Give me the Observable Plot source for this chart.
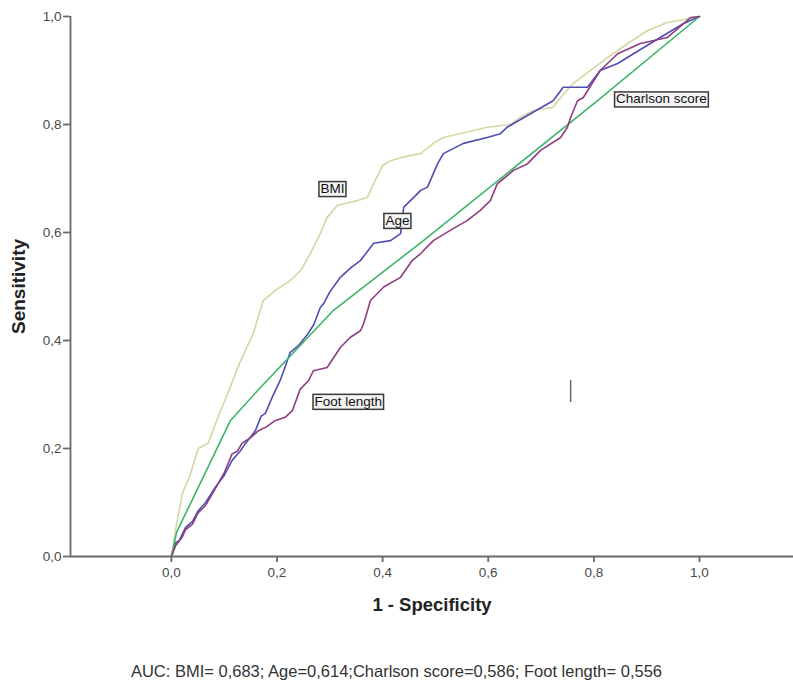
<!DOCTYPE html>
<html>
<head>
<meta charset="utf-8">
<script src="https://cdn.jsdelivr.net/npm/d3@7"></script>
<script src="https://cdn.jsdelivr.net/npm/@observablehq/plot@0.6"></script>
<style>
  body { margin: 0; background: #fff; font-family: "Liberation Sans", Arial, sans-serif; }
  #chart { width: 793px; }
  #caption { width: 793px; text-align: center; font-size: 16.5px; color: #333; margin-top: 34px; }
</style>
</head>
<body>
<div id="chart"></div>
<div id="caption"></div>
<script>
// ---- data ----
const xTicks = [0, 0.2, 0.4, 0.6, 0.8, 1.0];
const yTicks = [0, 0.2, 0.4, 0.6, 0.8, 1.0];
const xAxisLabel = "1 - Specificity";
const yAxisLabel = "Sensitivity";
const captionText = "AUC: BMI= 0,683; Age=0,614;Charlson score=0,586; Foot length= 0,556";

const seriesNames = ["BMI", "Age", "Charlson score", "Foot length"];
const seriesColors = ["#d6d6a2", "#4d4db3", "#3db56a", "#8e3d80"];

const bmiX = [0,0.008,0.021,0.035,0.051,0.07,0.085,0.11,0.13,0.155,0.174,0.2,0.225,0.245,0.263,0.282,0.295,0.314,0.335,0.352,0.371,0.383,0.4,0.415,0.44,0.472,0.496,0.515,0.56,0.598,0.642,0.66,0.686,0.723,0.737,0.761,0.788,0.826,0.864,0.902,0.939,0.964,1];
const bmiY = [0,0.05,0.117,0.15,0.2,0.21,0.25,0.31,0.36,0.413,0.474,0.495,0.511,0.53,0.561,0.598,0.628,0.65,0.655,0.659,0.665,0.69,0.724,0.733,0.74,0.746,0.765,0.776,0.786,0.795,0.8,0.813,0.826,0.832,0.85,0.876,0.896,0.924,0.95,0.974,0.989,0.993,1];

const ageX = [0,0.008,0.015,0.027,0.04,0.051,0.065,0.083,0.1,0.115,0.13,0.14,0.159,0.17,0.178,0.191,0.206,0.215,0.225,0.24,0.257,0.27,0.282,0.288,0.3,0.32,0.34,0.358,0.383,0.415,0.434,0.44,0.459,0.472,0.485,0.504,0.515,0.553,0.598,0.623,0.636,0.68,0.712,0.723,0.742,0.788,0.812,0.845,0.875,0.907,0.939,0.97,1];
const ageY = [0,0.025,0.03,0.054,0.065,0.085,0.1,0.128,0.15,0.178,0.195,0.209,0.233,0.26,0.265,0.295,0.326,0.35,0.378,0.39,0.41,0.43,0.461,0.468,0.49,0.517,0.535,0.548,0.58,0.585,0.598,0.647,0.665,0.678,0.684,0.727,0.746,0.765,0.776,0.783,0.795,0.82,0.838,0.844,0.869,0.869,0.9,0.913,0.931,0.95,0.969,0.987,1];

const charlsonX = [0,0.01,0.112,0.163,0.307,0.472,0.807,1];
const charlsonY = [0,0.045,0.252,0.307,0.456,0.581,0.844,1];

const footX = [0,0.008,0.02,0.027,0.04,0.05,0.065,0.08,0.1,0.115,0.125,0.134,0.15,0.165,0.18,0.197,0.216,0.229,0.244,0.26,0.269,0.295,0.32,0.339,0.358,0.364,0.377,0.402,0.434,0.456,0.472,0.496,0.528,0.56,0.585,0.604,0.617,0.648,0.674,0.699,0.737,0.75,0.756,0.769,0.78,0.812,0.845,0.888,0.939,0.983,1];
const footY = [0,0.02,0.035,0.05,0.06,0.08,0.095,0.12,0.155,0.19,0.195,0.21,0.22,0.233,0.24,0.252,0.258,0.27,0.31,0.326,0.344,0.35,0.387,0.406,0.418,0.431,0.474,0.499,0.517,0.548,0.561,0.585,0.604,0.622,0.641,0.659,0.69,0.715,0.727,0.752,0.776,0.795,0.813,0.844,0.85,0.9,0.931,0.95,0.961,0.998,1];

// label positions (data coordinates)
const labelX = [0.305, 0.428, 0.928, 0.335];
const labelY = [0.681, 0.622, 0.847, 0.287];

// stray vertical mark in the reference
const stickX = [0.756];
const stickY1 = [0.285];
const stickY2 = [0.326];

// ---- build ----
const xDomain = [-0.191, 1.178];
const fmt = d => d.toFixed(1).replace(".", ",");

function toRows(name, xs, ys) { return xs.map((x, i) => ({series: name, x, y: ys[i]})); }
const curves = [
  toRows("BMI", bmiX, bmiY),
  toRows("Age", ageX, ageY),
  toRows("Charlson score", charlsonX, charlsonY),
  toRows("Foot length", footX, footY)
];
const labels = seriesNames.map((s, i) => ({text: s, x: labelX[i], y: labelY[i]}));
const sticks = stickX.map((x, i) => ({x, y1: stickY1[i], y2: stickY2[i]}));

const axisColor = "#6a6a6a";
const plot = Plot.plot({
  width: 793,
  height: 628,
  marginTop: 16,
  marginBottom: 72,
  marginLeft: 70,
  marginRight: 0,
  style: {fontFamily: "'Liberation Sans', Arial, sans-serif", background: "#fff"},
  x: {domain: xDomain},
  y: {domain: [0, 1]},
  marks: [
    Plot.ruleY([0], {x1: xDomain[0], x2: xDomain[1], stroke: axisColor, strokeWidth: 1.8}),
    Plot.ruleX([xDomain[0]], {y1: 0, y2: 1, stroke: axisColor, strokeWidth: 1.8}),
    Plot.axisX({ticks: xTicks, tickFormat: fmt, tickSize: 6, tickPadding: 5, stroke: axisColor, strokeWidth: 1.8, fontSize: 13.5, color: "#4a4a4a", label: null}),
    Plot.axisY({ticks: yTicks, tickFormat: fmt, tickSize: 7, tickPadding: 2, stroke: axisColor, strokeWidth: 1.8, fontSize: 13.5, color: "#4a4a4a", label: null}),
    ...curves.map((rows, i) => Plot.line(rows, {x: "x", y: "y", stroke: seriesColors[i], strokeWidth: 1.6, curve: "linear"})),
    Plot.ruleX(sticks, {x: "x", y1: "y1", y2: "y2", stroke: "#666", strokeWidth: 1.5}),
    Plot.text(labels, {x: "x", y: "y", text: "text", fontSize: 13.5, fill: "#111"}),
    Plot.text([xAxisLabel], {frameAnchor: "bottom", dy: 49, lineAnchor: "middle", textAnchor: "middle", fontSize: 18.5, fontWeight: "bold", fill: "#222"}),
    Plot.text([yAxisLabel], {frameAnchor: "left", dx: -52, rotate: -90, lineAnchor: "middle", textAnchor: "middle", fontSize: 19, fontWeight: "bold", fill: "#222"})
  ]
});
document.getElementById("chart").appendChild(plot);
document.getElementById("caption").textContent = captionText;

// boxes behind series labels
d3.select(plot).selectAll("text").each(function() {
  if (!seriesNames.includes(this.textContent)) return;
  const b = this.getBBox();
  const t = this.getAttribute("transform");
  const r = document.createElementNS("http://www.w3.org/2000/svg", "rect");
  r.setAttribute("x", b.x - 1.5);
  r.setAttribute("y", b.y + 0.5);
  r.setAttribute("width", b.width + 3);
  r.setAttribute("height", b.height);
  if (t) r.setAttribute("transform", t);
  r.setAttribute("fill", "#f4f4f4");
  r.setAttribute("stroke", "#3a3a3a");
  r.setAttribute("stroke-width", 1.5);
  this.parentNode.insertBefore(r, this);
});
</script>
</body>
</html>
